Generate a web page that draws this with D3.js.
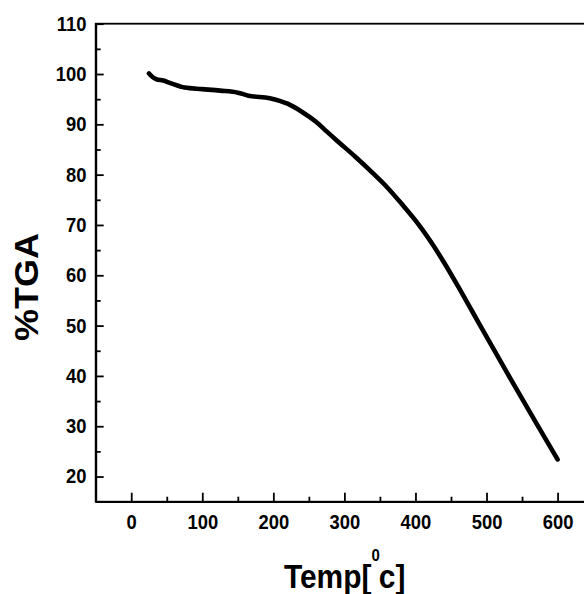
<!DOCTYPE html>
<html>
<head>
<meta charset="utf-8">
<script src="https://cdn.jsdelivr.net/npm/d3@7"></script>
<style>
  body { margin: 0; background: #fff; }
  svg { display: block; }
  text { font-family: "Liberation Sans", Arial, sans-serif; font-weight: bold; fill: #000; }
</style>
</head>
<body>
<div id="chart"></div>
<script>
// TGA curve
const temp = [25, 30, 35, 45, 55, 75, 100, 125, 150, 165, 195, 220, 240, 260, 275, 290, 315, 340, 360, 380, 400, 420, 440, 460, 480, 510, 540, 570, 600];
const tga  = [100.1, 99.4, 99.0, 98.7, 98.2, 97.3, 97.0, 96.7, 96.3, 95.7, 95.2, 94.1, 92.5, 90.5, 88.6, 86.7, 83.6, 80.3, 77.5, 74.3, 70.9, 67.0, 62.6, 57.8, 52.8, 45.3, 37.9, 30.6, 23.4];

const xTicks = [0, 100, 200, 300, 400, 500, 600];
const xMinor = [50, 150, 250, 350, 450, 550];
const yTicks = [20, 30, 40, 50, 60, 70, 80, 90, 100, 110];
const yMinor = [25, 35, 45, 55, 65, 75, 85, 95, 105];

const width = 584, height = 594;
const plotL = 95.7, plotT = 23.7, plotB = 501.7, plotR = 593.1;

const svg = d3.select("#chart").append("svg")
    .attr("width", width)
    .attr("height", height);

const x = d3.scaleLinear().domain([-50, 650]).range([plotL, plotR]);
const y = d3.scaleLinear().domain([15, 110]).range([plotB, plotT]);

// frame (top + right border, right one falls outside the window)
svg.append("rect")
    .attr("x", plotL).attr("y", plotT)
    .attr("width", plotR - plotL).attr("height", plotB - plotT)
    .attr("fill", "none").attr("stroke", "#000").attr("stroke-width", 1.8);

// x axis, ticks pointing inward
const xAxis = svg.append("g")
    .attr("transform", `translate(0,${plotB})`)
    .call(d3.axisBottom(x).tickValues(xTicks).tickSizeInner(-9).tickSizeOuter(0).tickPadding(13));
xAxis.append("g").call(d3.axisBottom(x).tickValues(xMinor).tickSizeInner(-5).tickSizeOuter(0).tickFormat(""));

// y axis
const yAxis = svg.append("g")
    .attr("transform", `translate(${plotL},0)`)
    .call(d3.axisLeft(y).tickValues(yTicks).tickSizeInner(-8).tickSizeOuter(0).tickPadding(10));
yAxis.append("g").call(d3.axisLeft(y).tickValues(yMinor).tickSizeInner(-5).tickSizeOuter(0).tickFormat(""));

svg.selectAll(".domain").attr("stroke-width", 1.8);
svg.selectAll(".tick line").attr("stroke-width", 1.8);
svg.selectAll(".tick text")
    .style("font-size", "20px")
    .style("font-family", "'Liberation Sans', Arial, sans-serif")
    .style("font-weight", "bold")
    .attr("fill", "#000")
    .attr("transform", "scale(0.92,1)");

// the curve
const line = d3.line()
    .x((d, i) => x(temp[i]))
    .y(d => y(d))
    .curve(d3.curveMonotoneX);

svg.append("path")
    .datum(tga)
    .attr("d", line)
    .attr("fill", "none")
    .attr("stroke", "#000")
    .attr("stroke-width", 4.6)
    .attr("stroke-linecap", "round")
    .attr("stroke-linejoin", "round");

// axis titles
const xt = svg.append("text")
    .attr("transform", "translate(344.7,588) scale(0.88,1)")
    .attr("text-anchor", "middle")
    .style("font-size", "34px");
xt.append("tspan").text("Temp[");
xt.append("tspan").attr("dy", -27).style("font-size", "17px").text("0");
xt.append("tspan").attr("dx", -1).attr("dy", 27).text("c]");

svg.append("text")
    .attr("transform", "translate(37.5,287) scale(0.9,1) rotate(-90)")
    .attr("text-anchor", "middle")
    .style("font-size", "36px")
    .text("%TGA");
</script>
</body>
</html>
